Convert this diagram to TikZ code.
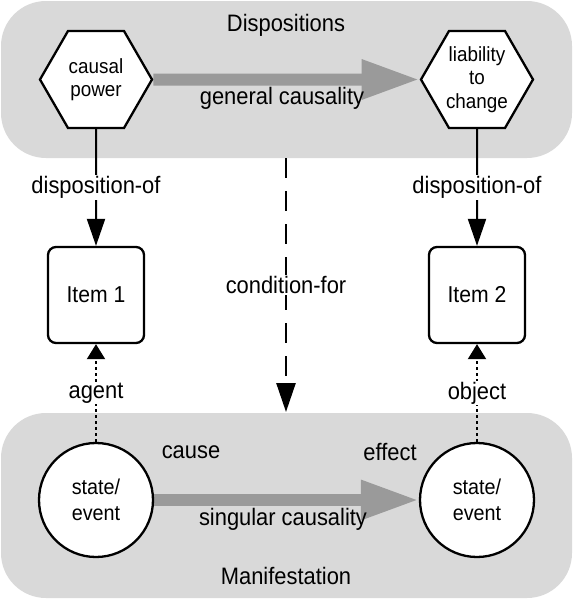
\documentclass[tikz,border=0pt]{standalone}
\usepackage{fontspec}
\setmainfont{Liberation Sans}[FakeStretch=0.92]
\usetikzlibrary{shapes.geometric,arrows.meta}
\definecolor{panelgray}{HTML}{D9D9D9}
\definecolor{fatgray}{HTML}{9A9A9A}
\pgfdeclarelayer{bg}
\pgfsetlayers{bg,main}
\begin{document}
\begin{tikzpicture}[x=1pt,y=-1pt,
  lbl/.style={font=\fontsize{23.8}{28}\selectfont, inner sep=1pt},
  wlbl/.style={lbl, fill=white},
  hexa/.style={draw, line width=2.3pt, fill=white, regular polygon, regular polygon sides=6,
    minimum size=112pt, inner sep=0pt, align=center, font=\fontsize{20.5}{23.5}\selectfont},
  itembox/.style={draw, line width=2.3pt, fill=white, rounded corners=8pt,
    minimum width=96pt, minimum height=96pt, inner sep=0pt, font=\fontsize{23}{26}\selectfont},
  sevent/.style={draw, circle, line width=2.3pt, fill=white, minimum size=114pt, inner sep=0pt,
    align=center, font=\fontsize{21.5}{26}\selectfont},
  conn/.style={line width=2pt, -{Triangle[length=27pt,width=18pt]}},
  dashconn/.style={line width=2.6pt, dash pattern=on 20pt off 13pt, -{Triangle[length=29pt,width=19pt]}},
  dotconn/.style={line width=2pt, dash pattern=on 3pt off 3pt, -{Triangle[length=15pt,width=18pt]}},
  fatarrow/.style={fatgray, line width=12pt, -{Triangle[length=58pt,width=37pt]}}
]
\useasboundingbox (0,0) rectangle (573,600);

% nodes
\node[lbl] (disp) at (286,25) {Dispositions};
\node[lbl] (mani) at (286,576) {Manifestation};
\node[hexa] (cp) at (96,79.5) {causal\\power};
\node[hexa] (lc) at (477,79.5) {liability\\to\\change};
\node[itembox] (i1) at (96,295) {Item 1};
\node[itembox] (i2) at (477,295) {Item 2};
\node[sevent] (s1) at (96,500) {state/\\event};
\node[sevent] (s2) at (477,500) {state/\\event};
\node[lbl] (gc) at (282,98) {general causality};
\node[lbl] (sc) at (283,519) {singular causality};
\node[lbl] (cause) at (191,452) {cause};
\node[lbl] (effect) at (390,452) {effect};
\coordinate (dtop) at (286,158);
\coordinate (dbot) at (286,412);

% background
\begin{pgfonlayer}{bg}
  \fill[panelgray, rounded corners=45pt] (1,1) rectangle (572,158);
  \fill[panelgray, rounded corners=45pt] (1,413) rectangle (572,598);
  \draw[fatarrow] (cp.east) -- (lc.west);
  \draw[fatarrow] (s1.east) -- (s2.west);
\end{pgfonlayer}

% connectors
\draw[conn] (cp.south) -- node[wlbl] {disposition-of} (i1.north);
\draw[conn] (lc.south) -- node[wlbl] {disposition-of} (i2.north);
\draw[dashconn] (dtop) -- node[wlbl] {condition-for} (dbot);
\draw[dotconn] (s1.north) -- node[wlbl] {agent} (i1.south);
\draw[dotconn] (s2.north) -- node[wlbl] {object} (i2.south);
\end{tikzpicture}
\end{document}
